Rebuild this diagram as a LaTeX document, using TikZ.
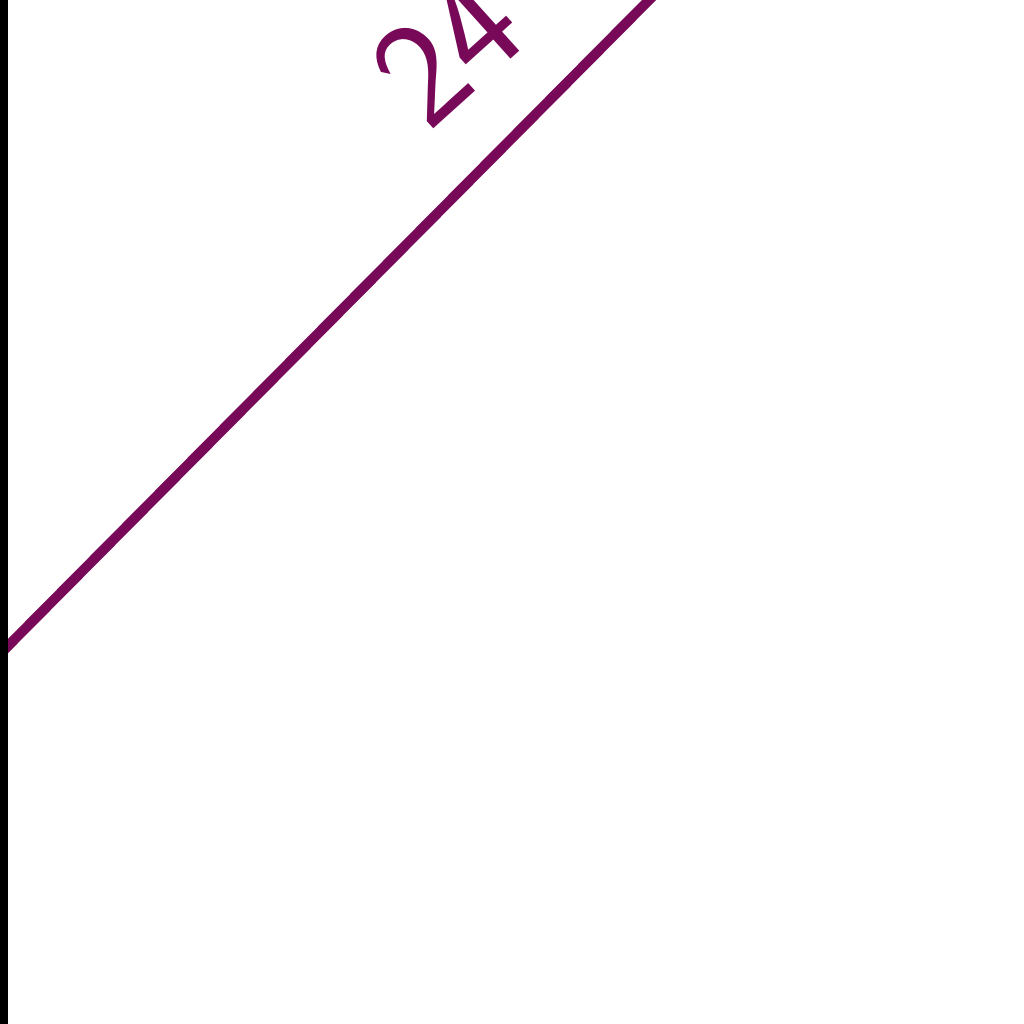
\documentclass[tikz,border=0pt]{standalone}
\definecolor{plum}{RGB}{120,8,88}
\begin{document}
\begin{tikzpicture}[x=1pt,y=-1pt,
  edge/.style={draw=plum,line width=10pt},
  lbl/.style={text=plum,font=\sffamily\fontsize{150}{150}\selectfont,inner sep=0pt,rotate=42,anchor=base west}]
\useasboundingbox (0,0) rectangle (1024,1024);
\clip (0,0) rectangle (1024,1024);
\fill[white] (0,0) rectangle (1024,1024);
\coordinate (a) at (4,650);
\coordinate (b) at (655,-6);
\draw[edge] (a) -- (b);
\node[lbl] (t) at (428,134) {24};
\draw[line width=8pt,black] (4,-10) -- (4,1034);
\end{tikzpicture}
\end{document}
